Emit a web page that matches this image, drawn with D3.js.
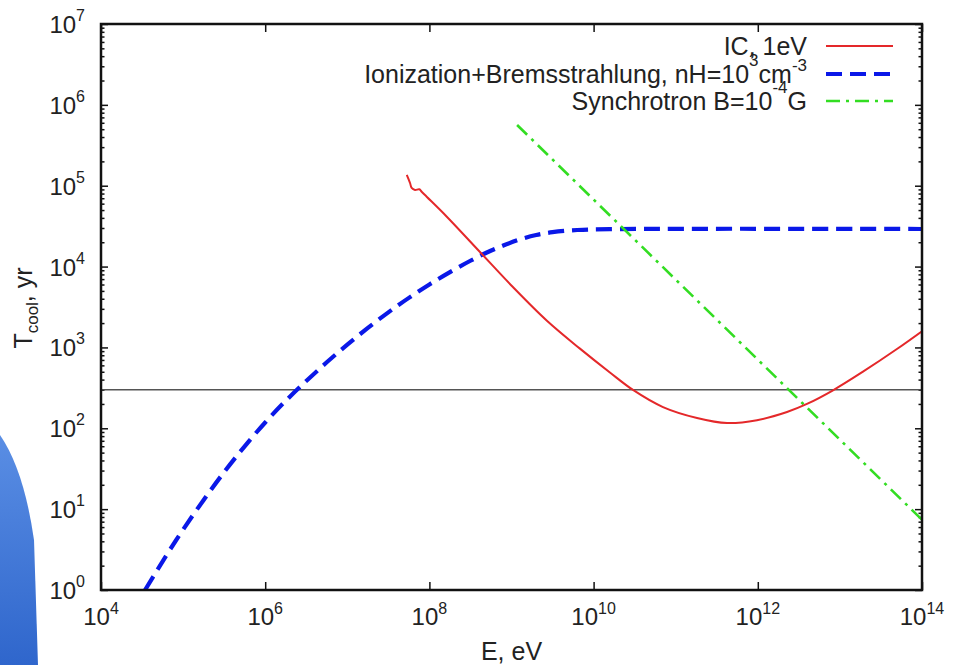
<!DOCTYPE html>
<html>
<head>
<meta charset="utf-8">
<script src="https://cdn.jsdelivr.net/npm/d3@7/dist/d3.min.js"></script>
<style>
  html, body { margin: 0; padding: 0; background: #fff; }
  svg { display: block; }
  text { font-family: "Liberation Sans", Arial, Helvetica, sans-serif; fill: #222; }
</style>
</head>
<body>
<svg id="chart" width="953" height="665"></svg>
<script>
// ---------- DATA ----------
// Inverse Compton, 1 eV photon field
const icE = [5.30e7, 5.81e7, 6.08e7, 6.68e7, 7.53e7, 8.05e7, 9.27e7, 1.63e8, 4.13e8, 1.04e9, 2.70e9, 6.82e9,
             1.58e10, 3.02e10, 7.00e10, 1.82e11, 4.22e11, 9.77e11, 2.27e12, 3.97e12, 8.24e12, 1.91e13, 4.95e13, 1e14];
const icT = [1.36e5, 1.08e5, 9.38e4, 8.85e4, 9.04e4, 8.43e4, 7.31e4, 4.14e4, 1.514e4, 5585, 2138, 966,
             490, 298, 183, 134, 116, 126, 159, 200, 295, 501, 955, 1585];
// Ionization + Bremsstrahlung, nH = 1e3 cm^-3
const ionE = [3.44e4, 6.31e4, 1e5, 1.78e5, 3.16e5, 5.62e5, 1e6, 1.78e6, 3.16e6, 5.62e6, 1e7, 1.78e7, 3.16e7,
              5.62e7, 1e8, 1.78e8, 3.16e8, 5.01e8, 7.94e8, 1.26e9, 2.0e9, 3.16e9, 6.31e9, 1.58e10, 1e14];
const ionT = [1.0, 2.72, 5.58, 13.0, 28.7, 59.8, 118, 219, 384, 655, 1084, 1742, 2716,
              4102, 6012, 8551, 11800, 14930, 18200, 21630, 24550, 26610, 28310, 29040, 29170];
// Synchrotron, B = 1e-4 G
const synE = [1.17e9, 1e14];
const synT = [5.64e5, 7.4];
// Reference horizontal level
const refT = 300;

const xTickExps = [4, 6, 8, 10, 12, 14];
const yTickExps = [0, 1, 2, 3, 4, 5, 6, 7];
const xTitle = "E, eV";
const legendLabels = [
  [{t: "IC, 1eV"}],
  [{t: "Ionization+Bremsstrahlung, nH=10"}, {t: "3", sup: 17}, {t: "cm"}, {t: "-3", sup: 12}],
  [{t: "Synchrotron B=10"}, {t: "-4", sup: 17}, {t: "G"}]
];
const seriesColors = ["#e4282a", "#0a18e8", "#33dd22"];

// ---------- LAYOUT ----------
const L = 101, R = 922, T = 24, B = 590;
const svg = d3.select("#chart");

const x = d3.scaleLog().domain([1e4, 1e14]).range([L, R]);
const y = d3.scaleLog().domain([1, 1e7]).range([B, T]);

// decorative slide background shape (left edge of the original slide)
const defs = svg.append("defs");
const grad = defs.append("linearGradient").attr("id", "bgGrad")
  .attr("x1", 0).attr("y1", 0).attr("x2", 0).attr("y2", 1);
grad.append("stop").attr("offset", "0%").attr("stop-color", "#5a8ee4");
grad.append("stop").attr("offset", "100%").attr("stop-color", "#2f66cc");
svg.append("path")
  .attr("d", "M0,435 Q24,470 34,540 L38,665 L0,665 Z")
  .attr("fill", "url(#bgGrad)");

defs.append("clipPath").attr("id", "plotClip")
  .append("rect").attr("x", L).attr("y", T).attr("width", R - L).attr("height", B - T);

// ---------- AXES / TICKS ----------
const xMajor = xTickExps.map(e => Math.pow(10, e));
const yMajor = yTickExps.map(e => Math.pow(10, e));
const yMinor = [];
for (let d = 0; d < 7; d++) for (let m = 2; m <= 9; m++) yMinor.push(m * Math.pow(10, d));

function styleAxis(g) {
  g.select(".domain").remove();
  g.selectAll("line").attr("stroke", "#111").attr("stroke-width", 1.5);
  g.selectAll("text").remove();
}
svg.append("g").attr("transform", `translate(0,${B})`)
  .call(d3.axisBottom(x).tickValues(xMajor).tickSize(-8)).call(styleAxis);
svg.append("g").attr("transform", `translate(0,${T})`)
  .call(d3.axisTop(x).tickValues(xMajor).tickSize(-8)).call(styleAxis);
svg.append("g").attr("transform", `translate(${L},0)`)
  .call(d3.axisLeft(y).tickValues(yMajor).tickSize(-7)).call(styleAxis);
svg.append("g").attr("transform", `translate(${L},0)`)
  .call(d3.axisLeft(y).tickValues(yMinor).tickSize(-3.5)).call(styleAxis);
svg.append("g").attr("transform", `translate(${R},0)`)
  .call(d3.axisRight(y).tickValues(yMajor).tickSize(-7)).call(styleAxis);
svg.append("g").attr("transform", `translate(${R},0)`)
  .call(d3.axisRight(y).tickValues(yMinor).tickSize(-3.5)).call(styleAxis);

// tick labels with superscripts
const xl = svg.append("g");
xTickExps.forEach(e => {
  const t = xl.append("text").attr("x", x(Math.pow(10, e))).attr("y", B + 35)
    .attr("text-anchor", "middle").attr("font-size", 24);
  t.append("tspan").text("10");
  t.append("tspan").attr("font-size", 16).attr("dy", -11).text(String(e));
});
const yl = svg.append("g");
yTickExps.forEach(e => {
  const t = yl.append("text").attr("x", L - 16).attr("y", y(Math.pow(10, e)) + 9)
    .attr("text-anchor", "end").attr("font-size", 24);
  t.append("tspan").text("10");
  t.append("tspan").attr("font-size", 16).attr("dy", -12).text(String(e));
});

// axis titles
svg.append("text").attr("x", (L + R) / 2).attr("y", 660)
  .attr("text-anchor", "middle").attr("font-size", 25).text(xTitle);
const yt = svg.append("text").attr("transform", "translate(32,308) rotate(-90)")
  .attr("text-anchor", "middle").attr("font-size", 25);
yt.append("tspan").text("T");
yt.append("tspan").attr("font-size", 17).attr("dy", 6).text("cool");
yt.append("tspan").attr("dy", -6).text(", yr");

// ---------- REFERENCE LINE ----------
svg.append("line")
  .attr("x1", L).attr("x2", R).attr("y1", y(refT)).attr("y2", y(refT))
  .attr("stroke", "#555").attr("stroke-width", 1.4);

// ---------- CURVES ----------
const line = d3.line().x(d => x(d[0])).y(d => y(d[1])).curve(d3.curveCatmullRom.alpha(0.5));
const plot = svg.append("g").attr("clip-path", "url(#plotClip)");

const dashes = [null, "16,8", "14,6,3,6"];
const widths = [2, 4.2, 2.6];
const series = [
  d3.zip(icE, icT),
  d3.zip(ionE, ionT),
  d3.zip(synE, synT)
];
[1, 2, 0].forEach(i => {
  plot.append("path").datum(series[i]).attr("d", line)
    .attr("fill", "none").attr("stroke", seriesColors[i])
    .attr("stroke-width", widths[i])
    .attr("stroke-dasharray", dashes[i]);
});

// ---------- FRAME ----------
svg.append("rect").attr("x", L).attr("y", T).attr("width", R - L).attr("height", B - T)
  .attr("fill", "none").attr("stroke", "#111").attr("stroke-width", 2.5);

// ---------- LEGEND ----------
const lg = svg.append("g");
const legendBase = [55, 83, 110];
legendLabels.forEach((segs, i) => {
  const t = lg.append("text").attr("x", 807).attr("y", legendBase[i])
    .attr("text-anchor", "end").attr("font-size", 25);
  let pending = 0;
  segs.forEach(s => {
    const ts = t.append("tspan").text(s.t);
    if (s.sup) {
      ts.attr("font-size", 17).attr("dy", pending - s.sup);
      pending = s.sup;
    } else {
      if (pending) ts.attr("dy", pending);
      pending = 0;
    }
  });
  lg.append("line").attr("x1", 826).attr("x2", 893)
    .attr("y1", legendBase[i] - 9).attr("y2", legendBase[i] - 9)
    .attr("stroke", seriesColors[i]).attr("stroke-width", widths[i])
    .attr("stroke-dasharray", dashes[i]);
});
</script>
</body>
</html>
